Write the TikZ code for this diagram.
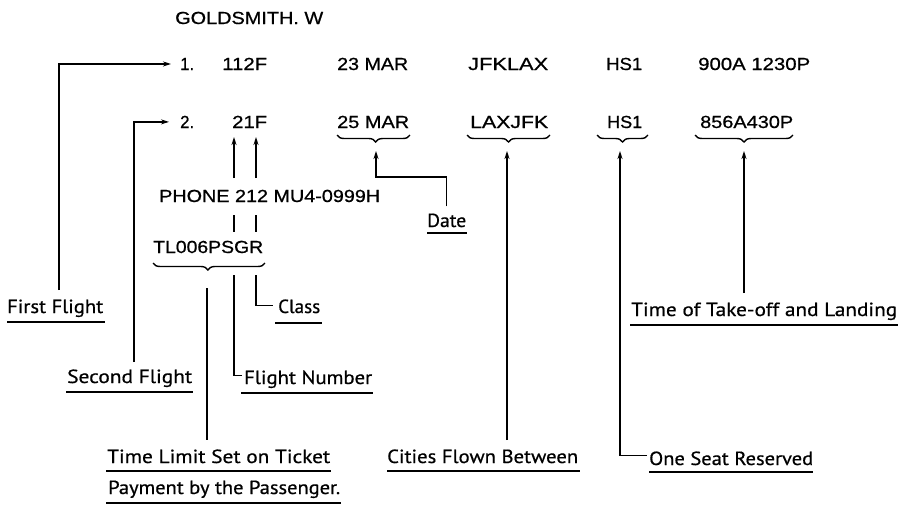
\documentclass[tikz,border=0pt]{standalone}
\usepackage{fontspec}
\usepackage{graphicx}
\usetikzlibrary{arrows.meta,decorations.pathreplacing,calc}
\newfontfamily\datafont[FakeBold=0.7]{Liberation Sans}
\newfontfamily\labfontfam[FakeBold=0.6]{PT Sans}
\newsavebox\fitbox
\newcommand\fitw[2]{\sbox\fitbox{#2}\pgfmathsetmacro\fitr{#1/\the\wd\fitbox}\scalebox{\fitr}[1]{\usebox\fitbox}}
\begin{document}
\begin{tikzpicture}[x=1pt,y=-1pt,
  data/.style={font=\datafont\fontsize{17.5}{20}\selectfont, inner sep=0pt, anchor=base west},
  lab/.style={font=\labfontfam\fontsize{19}{22}\selectfont, inner sep=0pt, anchor=base west},
  ln/.style={line width=1.5pt},
  arr/.style={line width=1.5pt, -{Stealth[length=8pt,width=5pt]}},
  ul/.style={line width=1.3pt},
  brc/.style={line width=1.4pt, decorate, decoration={brace, mirror, amplitude=7pt, aspect=#1}},
  brc/.default=0.5]
\useasboundingbox (0,0) rectangle (903,504);
% data lines
\node[data] (gold) at (175,24) {\fitw{148}{GOLDSMITH. W}};
\node[data] (n1) at (180,70) {\fitw{14}{1.}};
\node[data] (f1) at (222,70) {\fitw{45}{112F}};
\node[data] (d1) at (337,70) {\fitw{71}{23 MAR}};
\node[data] (c1) at (468,70) {\fitw{80}{JFKLAX}};
\node[data] (h1) at (606,70) {\fitw{36}{HS1}};
\node[data] (t1) at (698,70) {\fitw{112}{900A 1230P}};
\node[data] (n2) at (180,128) {\fitw{14}{2.}};
\node[data] (f2) at (232,128) {\fitw{35}{21F}};
\node[data] (d2) at (337,128) {\fitw{72}{25 MAR}};
\node[data] (c2) at (470,128) {\fitw{78}{LAXJFK}};
\node[data] (h2) at (607,128) {\fitw{35}{HS1}};
\node[data] (t2) at (700,128) {\fitw{93}{856A430P}};
\node[data] (phone) at (159,202) {\fitw{221}{PHONE 212 MU4-0999H}};
\node[data] (tl) at (153,253) {\fitw{110}{TL006PSGR}};
% labels
\node[lab] (ff) at (7,313) {\fitw{96}{First Flight}};
\node[lab] (sf) at (67,383) {\fitw{125}{Second Flight}};
\node[lab] (cl) at (278,313) {\fitw{42}{Class}};
\node[lab] (fn) at (244,384) {\fitw{128}{Flight Number}};
\node[lab] (dt) at (427,227) {\fitw{39}{Date}};
\node[lab] (tlim) at (107,463) {\fitw{223}{Time Limit Set on Ticket}};
\node[lab] (pay) at (108,494) {\fitw{232}{Payment by the Passenger.}};
\node[lab] (cit) at (387,463) {\fitw{191}{Cities Flown Between}};
\node[lab] (one) at (649,465) {\fitw{164}{One Seat Reserved}};
\node[lab] (tto) at (631,316) {\fitw{266}{Time of Take-off and Landing}};
% underlines
\draw[ul] ($(ff.base west)+(0,9)$) -- ($(ff.base east)+(2,9)$);
\draw[ul] ($(sf.base west)+(-1,9)$) -- ($(sf.base east)+(1,9)$);
\draw[ul] ($(cl.base west)+(-3,10)$) -- ($(cl.base east)+(2,10)$);
\draw[ul] ($(fn.base west)+(-3,9)$) -- ($(fn.base east)+(1,9)$);
\draw[ul] ($(dt.base west)+(0,6)$) -- ($(dt.base east)+(1,6)$);
\draw[ul] ($(tlim.base west)+(-1,8)$) -- ($(tlim.base east)+(1,8)$);
\draw[ul] ($(pay.base west)+(-2,9)$) -- ($(pay.base east)+(1,9)$);
\draw[ul] ($(cit.base west)+(0,8)$) -- ($(cit.base east)+(2,8)$);
\draw[ul] ($(one.base west)+(0,7)$) -- ($(one.base east)+(0,7)$);
\draw[ul] ($(tto.base west)+(-1,9)$) -- ($(tto.base east)+(1,9)$);
% braces
\draw[brc=0.53] (337,135) -- (410,135);
\draw[brc] (467,135) -- (550,135);
\draw[brc] (597,135) -- (648,135);
\draw[brc] (695,135) -- (793,135);
\draw[brc=0.49] (153,263) -- (265,263);
% coordinates
\coordinate (ffB) at (59,290);
\coordinate (sfB) at (134,362);
\coordinate (dateT) at (376,151);
\coordinate (citT) at (507,151);
\coordinate (citB) at (507,440);
\coordinate (oneT) at (620,151);
\coordinate (ttoT) at (744,151);
\coordinate (ttoB) at (744,293);
\coordinate (fnU) at (234,137);
\coordinate (clU) at (256,137);
\coordinate (tlT) at (207,288);
\coordinate (tlB) at (207,440);
% connectors
\draw[arr] (ffB) |- ([xshift=-9pt]n1.west);
\draw[arr] (sfB) |- ([xshift=-11pt]n2.west);
\draw[arr] ($(fnU)+(0,41)$) -- (fnU);
\draw[arr] ($(clU)+(0,41)$) -- (clU);
\draw[ln] ($(fnU)+(0,78)$) -- ($(fnU)+(0,95)$);
\draw[ln] ($(clU)+(0,78)$) -- ($(clU)+(0,95)$);
\draw[ln] ($(fnU)+(0,138)$) |- ([xshift=-2pt,yshift=4pt]fn.west);
\draw[ln] ($(clU)+(0,138)$) |- ([xshift=-5pt,yshift=1pt]cl.west);
\draw[ln] (tlT) -- (tlB);
\draw[arr] ([yshift=7pt]dt.north) |- ($(dateT)+(0,26)$) -- (dateT);
\draw[arr] (citB) -- (citT);
\draw[arr] ([xshift=-2pt,yshift=3pt]one.west) -| (oneT);
\draw[arr] (ttoB) -- (ttoT);
\end{tikzpicture}
\end{document}
